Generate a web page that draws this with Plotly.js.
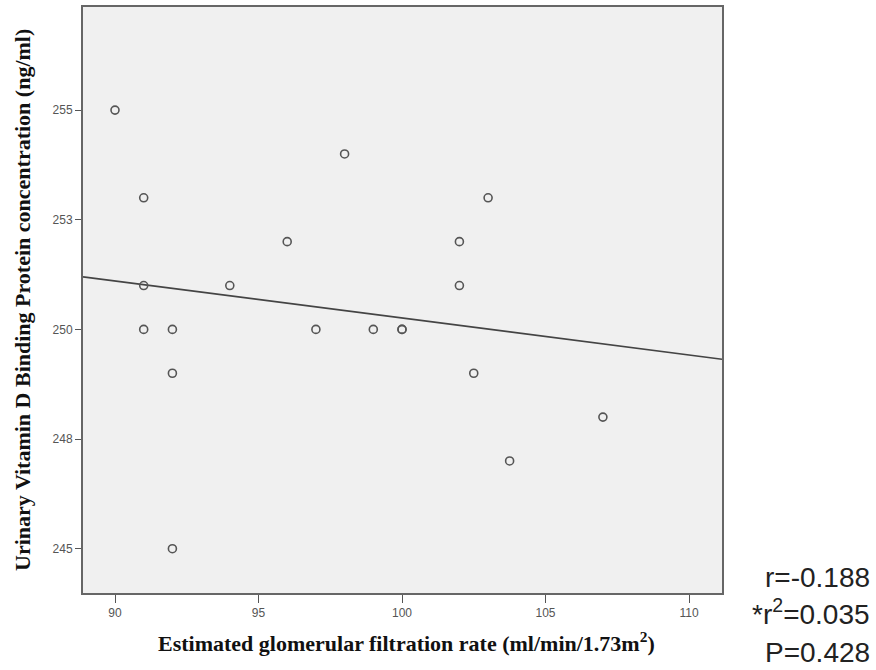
<!DOCTYPE html>
<html>
<head>
<meta charset="utf-8">
<script src="https://cdn.plot.ly/plotly-3.0.1.min.js"></script>
<style>html,body{margin:0;padding:0;background:#fff;}#chart{width:876px;height:670px;}</style>
</head>
<body>
<div id="chart"></div>
<script>
// Data (eGFR vs urinary VDBP)
const egfr = [90, 91, 91, 91, 92, 92, 92, 94, 96, 97, 98, 99, 100, 100, 102, 102, 102.5, 103, 103.75, 107];
const vdbp = [255, 253, 251, 250, 250, 249, 245, 251, 252, 250, 254, 250, 250, 250, 252, 251, 249, 253, 247, 248];
const yTickVals = [245, 247.5, 250, 252.5, 255];
const yTickText = ['245', '248', '250', '253', '255'];
const xTickVals = [90, 95, 100, 105, 110];
const statLines = ['r=-0.188', '*r<sup>2</sup>=0.035', 'P=0.428'];

// least squares fit line computed from the data
const n = egfr.length;
const mx = egfr.reduce((a, b) => a + b, 0) / n;
const my = vdbp.reduce((a, b) => a + b, 0) / n;
let sxy = 0, sxx = 0;
for (let i = 0; i < n; i++) { sxy += (egfr[i] - mx) * (vdbp[i] - my); sxx += (egfr[i] - mx) ** 2; }
const slope = sxy / sxx, icpt = my - slope * mx;
const xRange = [88.885, 111.15];
const fitX = xRange.slice();
const fitY = fitX.map(x => icpt + slope * x);

const traces = [
  {x: fitX, y: fitY, mode: 'lines', type: 'scatter', line: {color: '#444', width: 1.6}, hoverinfo: 'skip'},
  {x: egfr, y: vdbp, mode: 'markers', type: 'scatter',
   marker: {symbol: 'circle-open', size: 8, color: '#555', line: {width: 1.6, color: '#555'}}}
];

const tickFont = {family: 'Liberation Sans, Arial, sans-serif', size: 12, color: '#555'};
const statFont = {family: 'Liberation Sans, Arial, sans-serif', size: 28, color: '#222'};
const layout = {
  width: 876, height: 670,
  margin: {l: 83, r: 154, t: 7, b: 77},
  paper_bgcolor: '#ffffff', plot_bgcolor: '#f0f0f0',
  showlegend: false,
  xaxis: {range: xRange, tickvals: xTickVals, ticktext: xTickVals.map(String),
          ticks: 'outside', ticklen: 8, tickwidth: 1, tickcolor: '#555',
          showgrid: false, zeroline: false, showline: true, linecolor: '#666', linewidth: 2, mirror: true,
          tickfont: tickFont},
  yaxis: {range: [243.99, 257.35], tickvals: yTickVals, ticktext: yTickText,
          ticks: 'outside', ticklen: 6, tickwidth: 1, tickcolor: '#555',
          showgrid: false, zeroline: false, showline: true, linecolor: '#666', linewidth: 2, mirror: true,
          tickfont: tickFont},
  annotations: [
    {text: 'Estimated glomerular filtration rate (ml/min/1.73m<sup>2</sup>)', xref: 'paper', yref: 'paper',
     x: 0.506, y: -0.084, xanchor: 'center', yanchor: 'middle', showarrow: false,
     font: {family: 'Liberation Serif, Times New Roman, serif', size: 22, color: '#111', weight: 'bold'}},
    {text: 'Urinary Vitamin D Binding Protein concentration (ng/ml)', xref: 'paper', yref: 'paper',
     x: -0.0955, y: 0.5, xanchor: 'center', yanchor: 'middle', textangle: -90, showarrow: false,
     font: {family: 'Liberation Serif, Times New Roman, serif', size: 22, color: '#111', weight: 'bold'}},
    {text: statLines[0], xref: 'paper', yref: 'paper', x: 1.234, y: 0.0265, xanchor: 'right', yanchor: 'middle',
     showarrow: false, font: statFont},
    {text: statLines[1], xref: 'paper', yref: 'paper', x: 1.234, y: -0.032, xanchor: 'right', yanchor: 'middle',
     showarrow: false, font: statFont},
    {text: statLines[2], xref: 'paper', yref: 'paper', x: 1.234, y: -0.102, xanchor: 'right', yanchor: 'middle',
     showarrow: false, font: statFont}
  ]
};
Plotly.newPlot('chart', traces, layout, {displayModeBar: false, staticPlot: true});
</script>
</body>
</html>
